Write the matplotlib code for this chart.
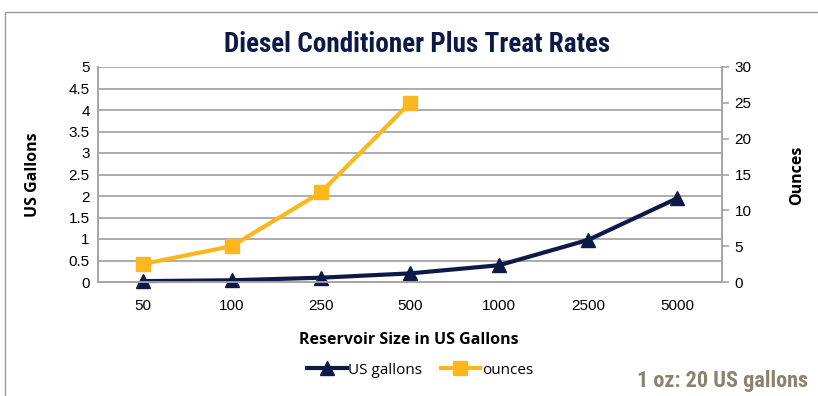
import matplotlib
matplotlib.use("Agg")
import matplotlib.pyplot as plt
from matplotlib.patches import Rectangle

# Treat-rate data
reservoir_sizes = ["50", "100", "250", "500", "1000", "2500", "5000"]
us_gallons = [0.02, 0.04, 0.1, 0.2, 0.39, 0.98, 1.95]
ounce_sizes = ["50", "100", "250", "500"]
ounces = [2.5, 5, 12.5, 25]

left_ticks = [0, 0.5, 1, 1.5, 2, 2.5, 3, 3.5, 4, 4.5, 5]
left_tick_labels = ["0", "0.5", "1", "1.5", "2", "2.5", "3", "3.5", "4", "4.5", "5"]
right_ticks = [0, 5, 10, 15, 20, 25, 30]

NAVY = "#0d1a47"
GOLD = "#fdb71c"
GRID = "#a6a6a6"

tick_font = ["Liberation Sans Narrow", "Liberation Sans", "DejaVu Sans"]
label_font = ["Open Sans", "DejaVu Sans"]
display_font = ["Roboto Condensed", "Roboto", "DejaVu Sans"]

fig = plt.figure(figsize=(8.18, 3.96), dpi=100)
fig.patch.set_facecolor("white")

# chart frame
fig.patches.append(Rectangle((5 / 818, -0.1), 1.2, (396 - 12) / 396 + 0.1,
                             transform=fig.transFigure, fill=False,
                             edgecolor="#9a9a9a", linewidth=1.0))

ax = fig.add_axes([98 / 818, 1 - 282 / 396, 624 / 818, 215 / 396])
ax2 = ax.twinx()

pos = {c: i + 0.5 for i, c in enumerate(reservoir_sizes)}
x_gal = [pos[c] for c in reservoir_sizes]
x_oz = [pos[c] for c in ounce_sizes]

ax.set_xlim(0, len(reservoir_sizes))
ax.set_ylim(0, 5)
ax2.set_ylim(0, 30)

ax.set_yticks(left_ticks)
ax.set_yticklabels(left_tick_labels, family=tick_font, fontsize=11)
ax.yaxis.grid(True, color=GRID, linewidth=1.3)
ax.set_axisbelow(True)
ax.tick_params(axis="y", length=0, pad=6)

ax.set_xticks(x_gal)
ax.set_xticklabels(reservoir_sizes, family=tick_font, fontsize=11)
ax.tick_params(axis="x", length=0, pad=12)

ax2.set_yticks(right_ticks)
ax2.set_yticklabels([str(t) for t in right_ticks], family=tick_font, fontsize=11)
ax2.tick_params(axis="y", length=5, color=GRID, width=1.2, pad=4)

for a in (ax, ax2):
    a.spines["top"].set_visible(False)
    for s in ("left", "right", "bottom"):
        a.spines[s].set_color(GRID)
        a.spines[s].set_linewidth(1.3)

l1, = ax.plot(x_gal, us_gallons, color=NAVY, linewidth=3, marker="^",
              markersize=10, label="US gallons", zorder=5, clip_on=False)
l2, = ax2.plot(x_oz, ounces, color=GOLD, linewidth=3, marker="s",
               markersize=10, label="ounces", zorder=5, clip_on=False)

fig.text(417 / 818, 1 - 44 / 396, "Diesel Conditioner Plus Treat Rates",
         ha="center", va="center", fontsize=19.5, fontweight="bold",
         color=NAVY, family=display_font)

fig.text(33 / 818, 1 - 175 / 396, "US Gallons", rotation=90, ha="center",
         va="center", fontsize=11.5, fontweight="bold", family=label_font)
fig.text(797 / 818, 1 - 175 / 396, "Ounces", rotation=90, ha="center",
         va="center", fontsize=11.5, fontweight="bold", family=label_font)
fig.text(409 / 818, 1 - 340 / 396, "Reservoir Size in US Gallons",
         ha="center", va="center", fontsize=11.5, fontweight="bold",
         family=label_font)

fig.legend(handles=[l1, l2], loc="center", bbox_to_anchor=(420 / 818, 1 - 370 / 396),
           ncol=2, frameon=False, handlelength=2.6, handletextpad=0.1,
           columnspacing=1.2, prop={"family": label_font, "size": 11})

fig.text(808 / 818, 1 - 381 / 396, "1 oz: 20 US gallons", ha="right",
         va="center", fontsize=16, fontweight="bold", color="#8c8270",
         family=display_font)

fig.savefig("out.png", dpi=100)
